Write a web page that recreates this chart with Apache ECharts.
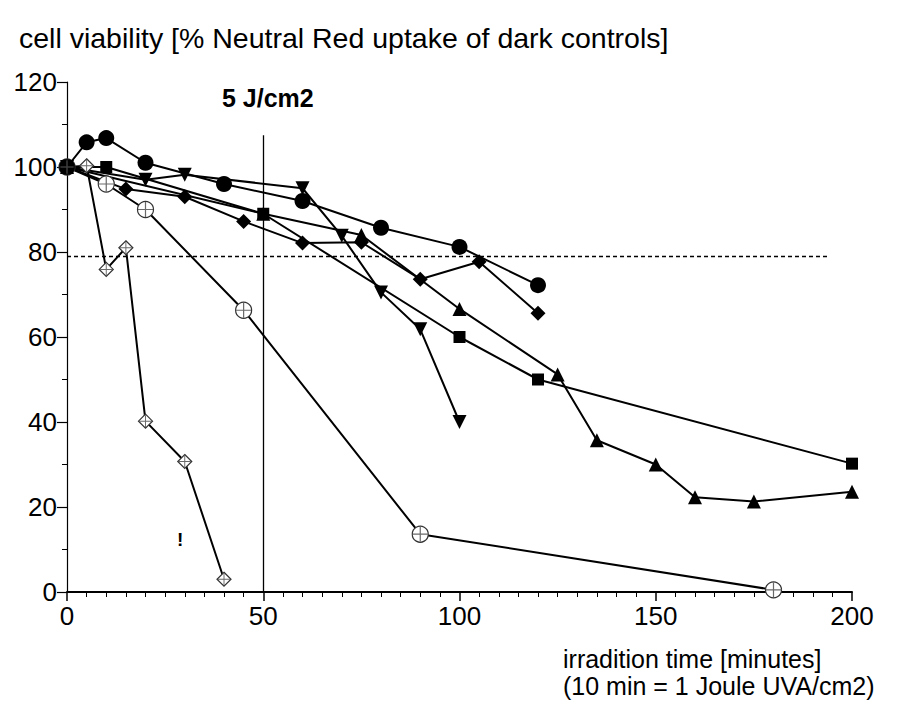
<!DOCTYPE html>
<html>
<head>
<meta charset="utf-8">
<script src="https://cdn.jsdelivr.net/npm/echarts@6/dist/echarts.min.js"></script>
<style>
html,body{margin:0;padding:0;background:#fff;}
#chart{width:900px;height:703px;}
</style>
</head>
<body>
<div id="chart"></div>
<script>
// ---- data (x = irradiation time [min], y = viability [%]) ----
var filledCircle = [[0,100],[5,105.8],[10,106.8],[20,101],[40,96],[60,92],[80,85.7],[100,81.2],[120,72.2]];
var filledSquare = [[0,100],[10,100],[50,89],[100,60],[120,50],[200,30.2]];
var filledTriUp = [[0,100],[50,89],[75,84],[100,66.6],[125,51.2],[135,35.7],[150,30],[160,22.3],[175,21.3],[200,23.6]];
var filledTriDown = [[0,100],[20,97],[30,98.2],[60,95],[70,83.8],[80,70.5],[90,61.8],[100,40]];
var filledDiamond = [[0,100],[15,94.8],[30,93],[45,87.2],[60,82.1],[75,82.3],[90,73.6],[105,77.7],[120,65.6]];
var openCircleCross = [[0,100],[10,96],[20,90],[45,66.3],[90,13.6],[180,0.5]];
var openDiamondCross = [[0,100],[5,100.3],[10,75.9],[15,81],[20,40.2],[30,30.7],[40,3]];
var xTicks = {min:0, max:200, interval:50};
var yTicks = {min:0, max:120, interval:20};
var threshold = 79;          // dashed reference level
var thresholdEnd = 194;      // dashed line extent (minutes)
var doseLineX = 50;          // 5 J/cm2
var doseLineTop = 107.5;

var crossPath = 'path://M9.2,0h1.6v20h-1.6z M0,9.2h20v1.6h-20z';

var chart = echarts.init(document.getElementById('chart'), null, {renderer:'svg'});
var font = 'Liberation Sans, Arial, sans-serif';

function lineSeries(data, symbol, size, open) {
  return {
    type:'line', data:data, symbol:symbol, symbolSize:size,
    showAllSymbol:true, animation:false,
    lineStyle:{color:'#000', width:2},
    itemStyle: open ? {color:'#fff', borderColor:'#333', borderWidth:1.2}
                    : {color:'#000', borderColor:'#000', borderWidth:0},
    emphasis:{disabled:true}, z:3
  };
}
function crossSeries(data, size) {
  return {type:'scatter', data:data, symbol:crossPath, symbolSize:size,
    itemStyle:{color:'#444'}, animation:false, z:4, silent:true};
}

var s1 = lineSeries(filledCircle, 'circle', 16, false);
s1.markLine = {
  silent:true, symbol:'none', animation:false, label:{show:false},
  data:[
    [{coord:[doseLineX,0]},{coord:[doseLineX,doseLineTop]}],
  ],
  lineStyle:{color:'#000', width:1.3, type:'solid'}
};
var sDash = {type:'line', data:[], animation:false,
  markLine:{silent:true, symbol:'none', animation:false, label:{show:false},
    data:[[{coord:[0,threshold]},{coord:[thresholdEnd,threshold]}]],
    lineStyle:{color:'#000', width:1.3, type:[4,3]}}};

chart.setOption({
  backgroundColor:'#fff',
  animation:false,
  grid:{left:67, right:48, top:82, bottom:111, containLabel:false},
  xAxis:{
    type:'value', min:xTicks.min, max:xTicks.max, interval:xTicks.interval,
    axisLine:{show:true, onZero:false, lineStyle:{color:'#000', width:2}},
    axisTick:{show:true, inside:false, length:9, lineStyle:{color:'#000', width:1.5}},
    minorTick:{show:true, splitNumber:10, length:5, lineStyle:{color:'#000', width:1}},
    splitLine:{show:false},
    axisLabel:{color:'#000', fontSize:26, fontFamily:font, margin:11}
  },
  yAxis:{
    type:'value', min:yTicks.min, max:yTicks.max, interval:yTicks.interval,
    axisLine:{show:true, lineStyle:{color:'#000', width:1.2}},
    axisTick:{show:true, inside:false, length:10, lineStyle:{color:'#000', width:1.2}},
    minorTick:{show:true, splitNumber:2, length:5, lineStyle:{color:'#000', width:1}},
    splitLine:{show:false},
    axisLabel:{color:'#000', fontSize:26, fontFamily:font, margin:10}
  },
  graphic:[
    {type:'text', left:19, top:23, style:{text:'cell viability [% Neutral Red uptake of dark controls]', font:'28.5px '+font, fill:'#000'}},
    {type:'text', left:222, top:85, style:{text:'5 J/cm2', font:'bold 25px '+font, fill:'#000'}},
    {type:'text', left:563, top:645, style:{text:'irradition time [minutes]\n(10 min = 1 Joule UVA/cm2)', font:'25px '+font, lineHeight:27, fill:'#000'}},
    {type:'text', left:177, top:530, style:{text:'!', font:'bold 19px '+font, fill:'#000'}}
  ],
  series:[
    sDash,
    lineSeries(openDiamondCross, 'diamond', 14, true),
    crossSeries(openDiamondCross, 12),
    lineSeries(openCircleCross, 'circle', 16, true),
    crossSeries(openCircleCross, 15),
    lineSeries(filledSquare, 'rect', 12, false),
    lineSeries(filledTriUp, 'triangle', 14, false),
    lineSeries(filledTriDown, 'path://M0,0L20,0L10,17z', 14, false),
    lineSeries(filledDiamond, 'diamond', 15, false),
    s1
  ]
});
</script>
</body>
</html>
